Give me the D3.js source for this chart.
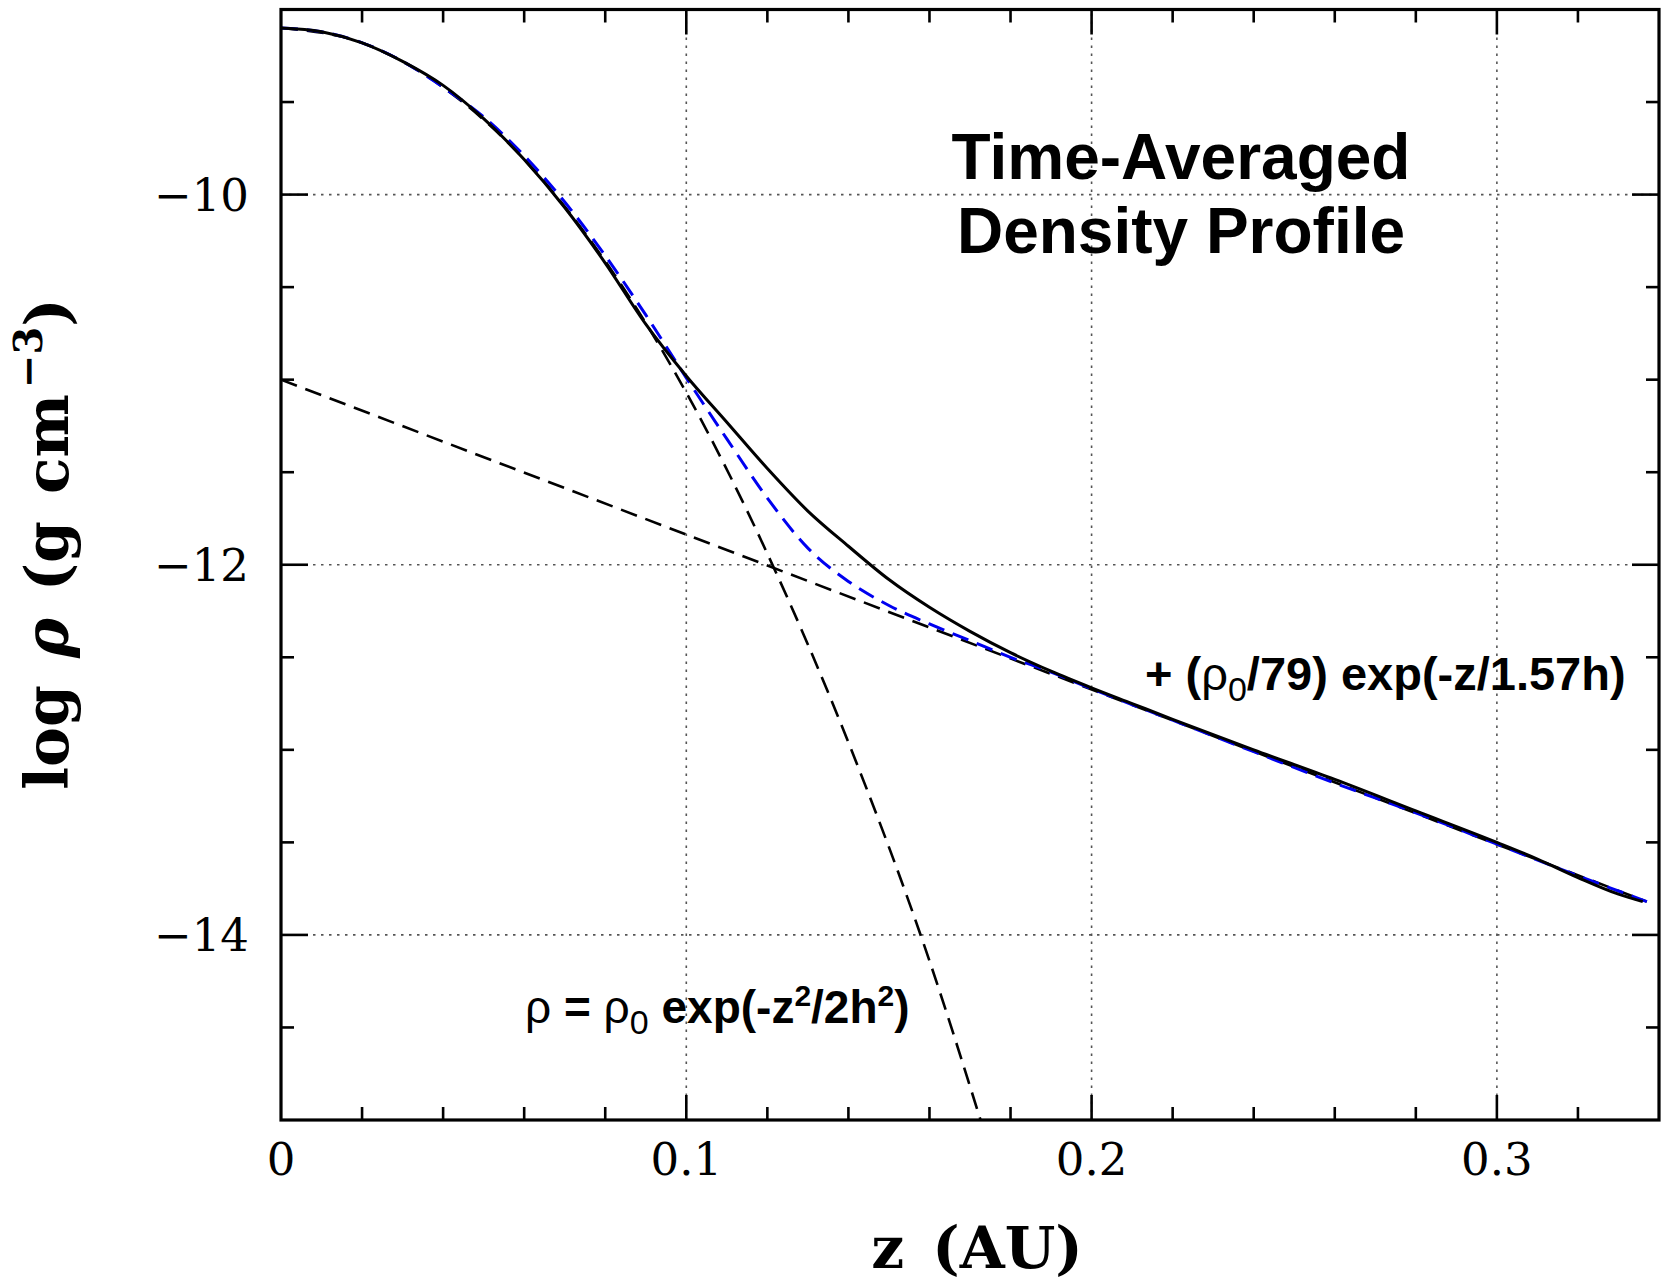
<!DOCTYPE html>
<html lang="en">
<head>
<meta charset="UTF-8">
<title>Time-Averaged Density Profile</title>
<script src="https://d3js.org/d3.v7.min.js"></script>
<style>
  body { margin: 0; background: #fff; }
  .tick-label { font-family: "DejaVu Serif", serif; font-size: 45px; fill: #000; }
  .axis-title { font-family: "DejaVu Serif", serif; font-weight: bold; fill: #000; }
  .note { font-family: "Liberation Sans", Arial, sans-serif; font-weight: bold; fill: #000; }
</style>
</head>
<body>
<svg id="chart" width="1668" height="1281"></svg>
<script>
// simulation profile (solid black)
const zSim   = [0, 0.01, 0.02, 0.03, 0.04, 0.05, 0.06, 0.07, 0.08, 0.09, 0.10, 0.11, 0.12, 0.13, 0.14, 0.15, 0.16, 0.17, 0.18, 0.19, 0.20, 0.21, 0.22, 0.24, 0.26, 0.28, 0.30, 0.31, 0.32, 0.33, 0.336];
const logSim = [-9.10, -9.12, -9.18, -9.28, -9.41, -9.59, -9.81, -10.07, -10.37, -10.70, -10.98, -11.23, -11.48, -11.71, -11.90, -12.08, -12.23, -12.36, -12.475, -12.575, -12.665, -12.75, -12.835, -13.00, -13.16, -13.33, -13.50, -13.59, -13.69, -13.78, -13.82];

// two-component fit (blue dashed)
const zFit   = [0, 0.01, 0.02, 0.03, 0.04, 0.05, 0.06, 0.07, 0.08, 0.09, 0.10, 0.11, 0.12, 0.13, 0.14, 0.15, 0.16, 0.17, 0.18, 0.19, 0.20, 0.22, 0.24, 0.26, 0.28, 0.30, 0.32, 0.337];
const logFit = [-9.10, -9.12, -9.18, -9.28, -9.42, -9.58, -9.79, -10.04, -10.33, -10.65, -10.99, -11.32, -11.64, -11.91, -12.09, -12.22, -12.32, -12.41, -12.50, -12.58, -12.67, -12.84, -13.01, -13.18, -13.34, -13.51, -13.68, -13.82];

// gaussian component (black dashed)
const zGauss   = [0, 0.02, 0.04, 0.06, 0.08, 0.10, 0.12, 0.14, 0.16, 0.1726];
const logGauss = [-9.10, -9.18, -9.42, -9.81, -10.36, -11.07, -11.94, -12.96, -14.14, -15.0];

// exponential component (black dashed)
const zExp   = [0, 0.337];
const logExp = [-11.0, -13.82];

const xMajor = [0, 0.1, 0.2, 0.3];
const xLabels = ["0", "0.1", "0.2", "0.3"];
const yMajor = [-10, -12, -14];
const yLabels = ["\u221210", "\u221212", "\u221214"];

const W = 1668, H = 1281;
const margin = { top: 9.5, right: 9, bottom: 161, left: 281 };

const svg = d3.select("#chart");
svg.append("rect").attr("width", W).attr("height", H).attr("fill", "#fff");

const x = d3.scaleLinear().domain([0, 0.34]).range([margin.left, W - margin.right]);
const y = d3.scaleLinear().domain([-15, -9]).range([H - margin.bottom, margin.top]);
const [x0, x1] = x.range();
const [y0, y1] = y.range();

svg.append("clipPath").attr("id", "plot-clip")
  .append("rect").attr("x", x0).attr("y", y1).attr("width", x1 - x0).attr("height", y0 - y1);

// dotted grid at the major ticks
const grid = svg.append("g").attr("stroke", "#555").attr("stroke-width", 1.6).attr("stroke-dasharray", "2.5,5.5");
grid.selectAll(".gx").data(xMajor.filter(d => d > 0)).enter().append("line")
  .attr("x1", d => x(d)).attr("x2", d => x(d)).attr("y1", y0).attr("y2", y1);
grid.selectAll(".gy").data(yMajor).enter().append("line")
  .attr("x1", x0).attr("x2", x1).attr("y1", d => y(d)).attr("y2", d => y(d));

const plot = svg.append("g").attr("clip-path", "url(#plot-clip)");

const line = d3.line().x(d => x(d[0])).y(d => y(d[1])).curve(d3.curveMonotoneX);
const pairs = (zs, vs) => zs.map((z, i) => [z, vs[i]]);

plot.append("path").datum(pairs(zExp, logExp)).attr("d", line)
  .attr("fill", "none").attr("stroke", "#000").attr("stroke-width", 2.6).attr("stroke-dasharray", "17,9");
plot.append("path").datum(pairs(zGauss, logGauss)).attr("d", line)
  .attr("fill", "none").attr("stroke", "#000").attr("stroke-width", 2.6).attr("stroke-dasharray", "17,9");
plot.append("path").datum(pairs(zFit, logFit)).attr("d", line)
  .attr("fill", "none").attr("stroke", "#0000f0").attr("stroke-width", 3).attr("stroke-dasharray", "17,9");
plot.append("path").datum(pairs(zSim, logSim)).attr("d", line)
  .attr("fill", "none").attr("stroke", "#000").attr("stroke-width", 3);

// ticks on all four sides
const xTicks = d3.range(0, 0.3401, 0.02).map(v => +v.toFixed(2));
const yTicks = d3.range(-15, -8.99, 0.5);
const isMajX = v => xMajor.some(m => Math.abs(m - v) < 1e-6);
const isMajY = v => yMajor.some(m => Math.abs(m - v) < 1e-6);
const ticks = svg.append("g").attr("stroke", "#000").attr("stroke-width", 2.6);
xTicks.filter(v => v > 0 && v < 0.34).forEach(v => {
  const len = isMajX(v) ? 25 : 13;
  ticks.append("line").attr("x1", x(v)).attr("x2", x(v)).attr("y1", y0).attr("y2", y0 - len);
  ticks.append("line").attr("x1", x(v)).attr("x2", x(v)).attr("y1", y1).attr("y2", y1 + len);
});
yTicks.filter(v => v > -15 && v < -9).forEach(v => {
  const len = isMajY(v) ? 27 : 13;
  ticks.append("line").attr("x1", x0).attr("x2", x0 + len).attr("y1", y(v)).attr("y2", y(v));
  ticks.append("line").attr("x1", x1).attr("x2", x1 - len).attr("y1", y(v)).attr("y2", y(v));
});

// frame
svg.append("rect").attr("x", x0).attr("y", y1).attr("width", x1 - x0).attr("height", y0 - y1)
  .attr("fill", "none").attr("stroke", "#000").attr("stroke-width", 3.2);

// tick labels
svg.selectAll(".xl").data(xMajor).enter().append("text")
  .attr("class", "tick-label").attr("text-anchor", "middle")
  .attr("x", d => x(d)).attr("y", y0 + 55)
  .text((d, i) => xLabels[i]);
svg.selectAll(".yl").data(yMajor).enter().append("text")
  .attr("class", "tick-label").attr("text-anchor", "end")
  .attr("x", x0 - 32).attr("y", d => y(d) + 16)
  .text((d, i) => yLabels[i]);

// axis titles
svg.append("text").attr("class", "axis-title").attr("font-size", 58)
  .attr("word-spacing", 8)
  .attr("text-anchor", "middle").attr("x", 977).attr("y", 1268)
  .text("z (AU)");

const yt = svg.append("text").attr("class", "axis-title").attr("font-size", 60)
  .attr("word-spacing", 6)
  .attr("text-anchor", "middle").attr("transform", "translate(68,544) rotate(-90)");
yt.append("tspan").text("log ");
yt.append("tspan").attr("font-style", "italic").text("\u03c1");
yt.append("tspan").text(" (g cm");
yt.append("tspan").attr("font-size", 40).attr("dx", 6).attr("dy", -26).text("\u22123");
yt.append("tspan").attr("dy", 26).text(")");

// annotations
const title = svg.append("text").attr("class", "note").attr("font-size", 64).attr("text-anchor", "middle");
title.append("tspan").attr("x", 1181).attr("y", 179).text("Time-Averaged");
title.append("tspan").attr("x", 1181).attr("y", 253).text("Density Profile");

const expNote = svg.append("text").attr("class", "note").attr("font-size", 47).attr("x", 1145).attr("y", 690);
expNote.append("tspan").text("+ (");
expNote.append("tspan").attr("font-weight", "normal").text("\u03c1");
expNote.append("tspan").attr("font-weight", "normal").attr("font-size", 34).attr("dy", 11).text("0");
expNote.append("tspan").attr("dy", -11).text("/79) exp(-z/1.57h)");

const gNote = svg.append("text").attr("class", "note").attr("font-size", 46).attr("x", 525).attr("y", 1023);
gNote.append("tspan").attr("font-weight", "normal").text("\u03c1");
gNote.append("tspan").text(" = ");
gNote.append("tspan").attr("font-weight", "normal").text("\u03c1");
gNote.append("tspan").attr("font-weight", "normal").attr("font-size", 34).attr("dy", 11).text("0");
gNote.append("tspan").attr("dy", -11).text(" exp(-z");
gNote.append("tspan").attr("font-size", 30).attr("dy", -17).text("2");
gNote.append("tspan").attr("dy", 17).text("/2h");
gNote.append("tspan").attr("font-size", 30).attr("dy", -17).text("2");
gNote.append("tspan").attr("dy", 17).text(")");
</script>
</body>
</html>
